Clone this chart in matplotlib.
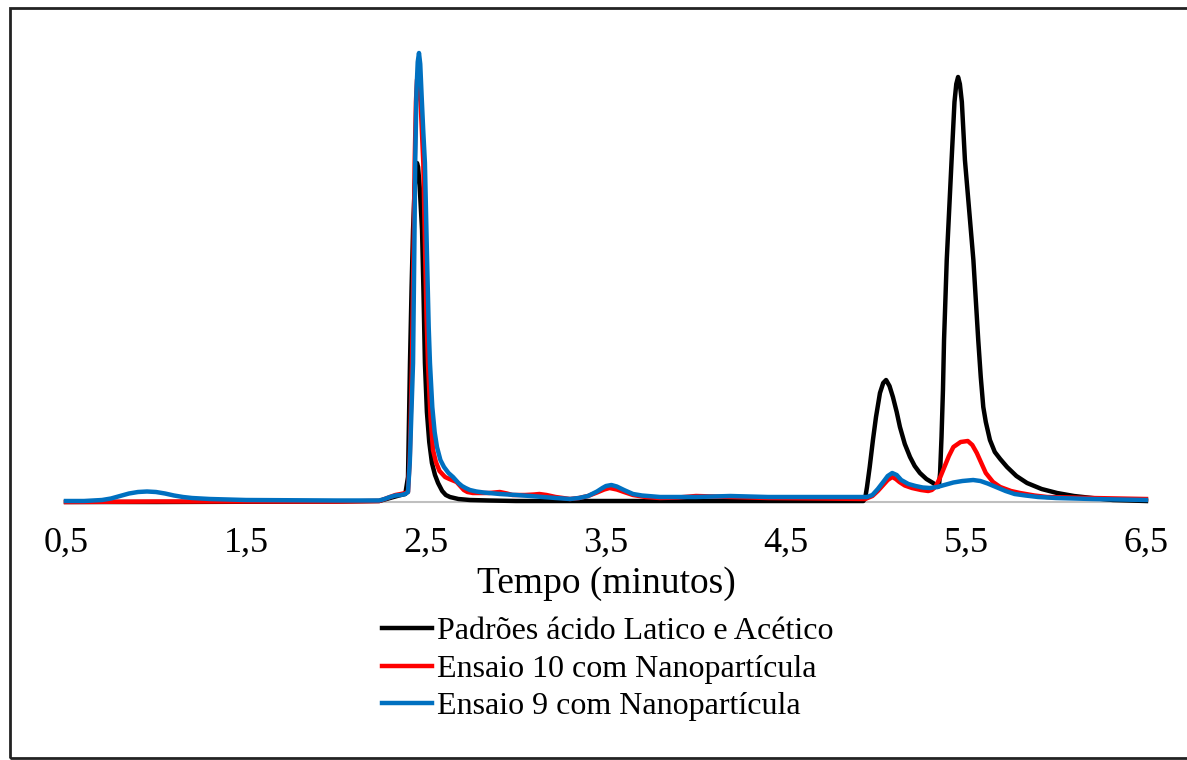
import matplotlib.pyplot as plt
from matplotlib.patches import Rectangle

plt.rcParams['font.family'] = ['Liberation Serif', 'DejaVu Serif']

# Padrões ácido Latico e Acético (tempo em minutos, sinal)
t_padrao = [0.50, 1.00, 2.00, 2.24, 2.27, 2.30, 2.33, 2.36, 2.385, 2.40, 2.411, 2.42, 2.428,
            2.437, 2.444, 2.45, 2.456, 2.465, 2.478, 2.486, 2.494, 2.505, 2.518, 2.533, 2.55,
            2.567, 2.59, 2.61, 2.633, 2.68, 2.744, 2.85, 3.00, 4.00, 4.93, 4.94, 4.95, 4.965,
            4.983, 5.00, 5.022, 5.04, 5.056, 5.075, 5.094, 5.115, 5.133, 5.16, 5.189, 5.215,
            5.244, 5.28, 5.317, 5.335, 5.344, 5.35, 5.356, 5.364, 5.372, 5.378, 5.393, 5.42,
            5.436, 5.446, 5.456, 5.466, 5.477, 5.494, 5.541, 5.568, 5.582, 5.596, 5.61,
            5.633, 5.66, 5.69, 5.728, 5.78, 5.839, 5.92, 6.006, 6.10, 6.20, 6.317, 6.50]
y_padrao = [0, 0, 0.5, 1, 2.5, 4, 5.5, 7, 8, 25, 139, 215, 272,
            315, 335, 339, 335, 315, 272, 210, 139, 90, 60, 39, 27,
            19, 11, 7, 5, 3, 2, 1.5, 1, 1, 1, 4, 15, 35,
            62, 85, 109, 119, 122, 116, 105, 90, 75, 58, 45, 36,
            29, 23, 19, 16.5, 15, 17, 29, 65, 112, 162, 242, 342,
            400, 418, 425, 418, 400, 342, 242, 162, 125, 95, 80,
            62, 50, 43, 35, 26, 19, 13, 9, 6, 4, 2, 1]

# Ensaio 10 com Nanopartícula
t_ensaio10 = [0.50, 1.00, 2.00, 2.24, 2.27, 2.30, 2.33, 2.36, 2.385, 2.40, 2.41, 2.422, 2.43,
              2.437, 2.444, 2.45, 2.456, 2.462, 2.47, 2.485, 2.495, 2.503, 2.511, 2.525, 2.539,
              2.555, 2.575, 2.606, 2.63, 2.65, 2.67, 2.69, 2.71, 2.73, 2.76, 2.85, 2.91, 2.95,
              2.98, 3.05, 3.10, 3.13, 3.17, 3.22, 3.30, 3.35, 3.40, 3.45, 3.49, 3.52, 3.56,
              3.60, 3.65, 3.72, 3.80, 3.90, 4.00, 4.10, 4.20, 4.40, 4.70, 4.94, 4.98, 5.01,
              5.04, 5.065, 5.09, 5.11, 5.13, 5.16, 5.20, 5.25, 5.29, 5.31, 5.33, 5.355, 5.38,
              5.405, 5.43, 5.47, 5.51, 5.535, 5.56, 5.585, 5.61, 5.65, 5.69, 5.75, 5.80, 5.88,
              5.95, 6.20, 6.50]
y_ensaio10 = [0, 0.5, 0.5, 1, 3, 5, 7, 8, 9, 10, 45, 139, 240,
              339, 400, 422, 428, 422, 400, 339, 250, 185, 139, 85, 52,
              40, 31, 25, 23, 21.5, 20, 16, 12, 10, 9, 9, 10, 8.5,
              7, 7, 7.5, 8, 7, 5, 3, 4, 6, 9.5, 12.5, 14, 12.5,
              10, 7, 5, 4, 4.5, 6, 5.5, 5, 4, 3.5, 3, 6, 11,
              17, 22, 25, 23, 20, 16.5, 14, 12, 11, 12, 15, 24, 35,
              46, 55, 60, 61, 57, 49, 39, 29, 20, 15, 11, 9, 6.5,
              5, 4, 3]

# Ensaio 9 com Nanopartícula
t_ensaio9 = [0.50, 0.60, 0.65, 0.70, 0.75, 0.80, 0.85, 0.90, 0.95, 1.00, 1.05, 1.10, 1.15,
             1.20, 1.30, 1.40, 1.50, 2.00, 2.24, 2.27, 2.30, 2.33, 2.36, 2.385, 2.40, 2.41,
             2.42, 2.428, 2.435, 2.44, 2.447, 2.454, 2.461, 2.468, 2.476, 2.485, 2.494, 2.505,
             2.515, 2.522, 2.535, 2.548, 2.561, 2.58, 2.60, 2.625, 2.65, 2.68, 2.70, 2.72,
             2.744, 2.78, 2.82, 2.91, 3.00, 3.08, 3.15, 3.22, 3.30, 3.35, 3.40, 3.45, 3.48,
             3.50, 3.53, 3.56, 3.60, 3.65, 3.70, 3.80, 4.00, 4.19, 4.40, 4.80, 4.95, 4.98,
             5.01, 5.04, 5.065, 5.09, 5.115, 5.14, 5.18, 5.22, 5.26, 5.30, 5.34, 5.38, 5.43,
             5.48, 5.54, 5.58, 5.62, 5.68, 5.72, 5.77, 5.83, 5.90, 6.00, 6.20, 6.50]
y_ensaio9 = [1, 1, 1.5, 2, 3.5, 6, 8.5, 10, 10.5, 10, 8.5, 6.5, 5,
             4, 3, 2.5, 2, 1.5, 1.5, 3, 5, 6.5, 7, 8, 10, 40,
             95, 139, 250, 339, 410, 440, 449, 438, 405, 370, 339, 250,
             175, 139, 95, 70, 55, 42, 35, 29, 25, 19, 16, 14,
             12, 10.5, 9.5, 8, 7, 6, 5, 4, 3, 4, 6, 10.5, 14,
             16, 17, 15.5, 12, 8, 6.5, 5, 5, 6, 5, 5, 5, 7,
             13, 20, 26, 29, 27, 22, 18, 16, 14.5, 14, 15, 17, 19.5,
             21, 22, 21, 18.5, 14, 11, 8, 6.5, 5, 4, 3, 2]

ticks = [0.5, 1.5, 2.5, 3.5, 4.5, 5.5, 6.5]
tick_labels = ['0,5', '1,5', '2,5', '3,5', '4,5', '5,5', '6,5']

fig = plt.figure(figsize=(11.87, 7.6), dpi=100)
ax = fig.add_axes([66 / 1187, 258 / 760, 1080 / 1187, 480 / 760])

ax.plot(t_padrao, y_padrao, color='black', lw=3.2, label='Padrões ácido Latico e Acético',
        clip_on=False, solid_joinstyle='round')
ax.plot(t_ensaio10, y_ensaio10, color='#ff0000', lw=3.2, label='Ensaio 10 com Nanopartícula',
        clip_on=False, solid_joinstyle='round')
ax.plot(t_ensaio9, y_ensaio9, color='#0070c0', lw=3.2, label='Ensaio 9 com Nanopartícula',
        clip_on=False, solid_joinstyle='round')

ax.set_xlim(0.5, 6.5)
ax.set_ylim(0, 480)
ax.set_xticks(ticks)
ax.set_xticklabels(tick_labels, fontsize=26)
ax.tick_params(axis='x', length=0, pad=18)
ax.set_yticks([])
for s in ['top', 'right', 'left']:
    ax.spines[s].set_visible(False)
ax.spines['bottom'].set_color('#bfbfbf')
ax.spines['bottom'].set_linewidth(1.5)
ax.spines['bottom'].set_zorder(0)

fig.text(606 / 1187, (760 - 584) / 760, 'Tempo (minutos)', ha='center', va='center', fontsize=27)

fig.legend(loc='center', bbox_to_anchor=(608 / 1187, (760 - 669) / 760), frameon=False,
           fontsize=23, handlelength=1.55, handletextpad=0.16, labelspacing=0.25,
           borderpad=0, borderaxespad=0)

# chart border
fig.patches.append(Rectangle((10 / 1187, 2 / 760), 1.2, 750 / 760, transform=fig.transFigure,
                             fill=False, edgecolor='#222222', lw=2, clip_on=False))

fig.savefig('out.png', dpi=100)
